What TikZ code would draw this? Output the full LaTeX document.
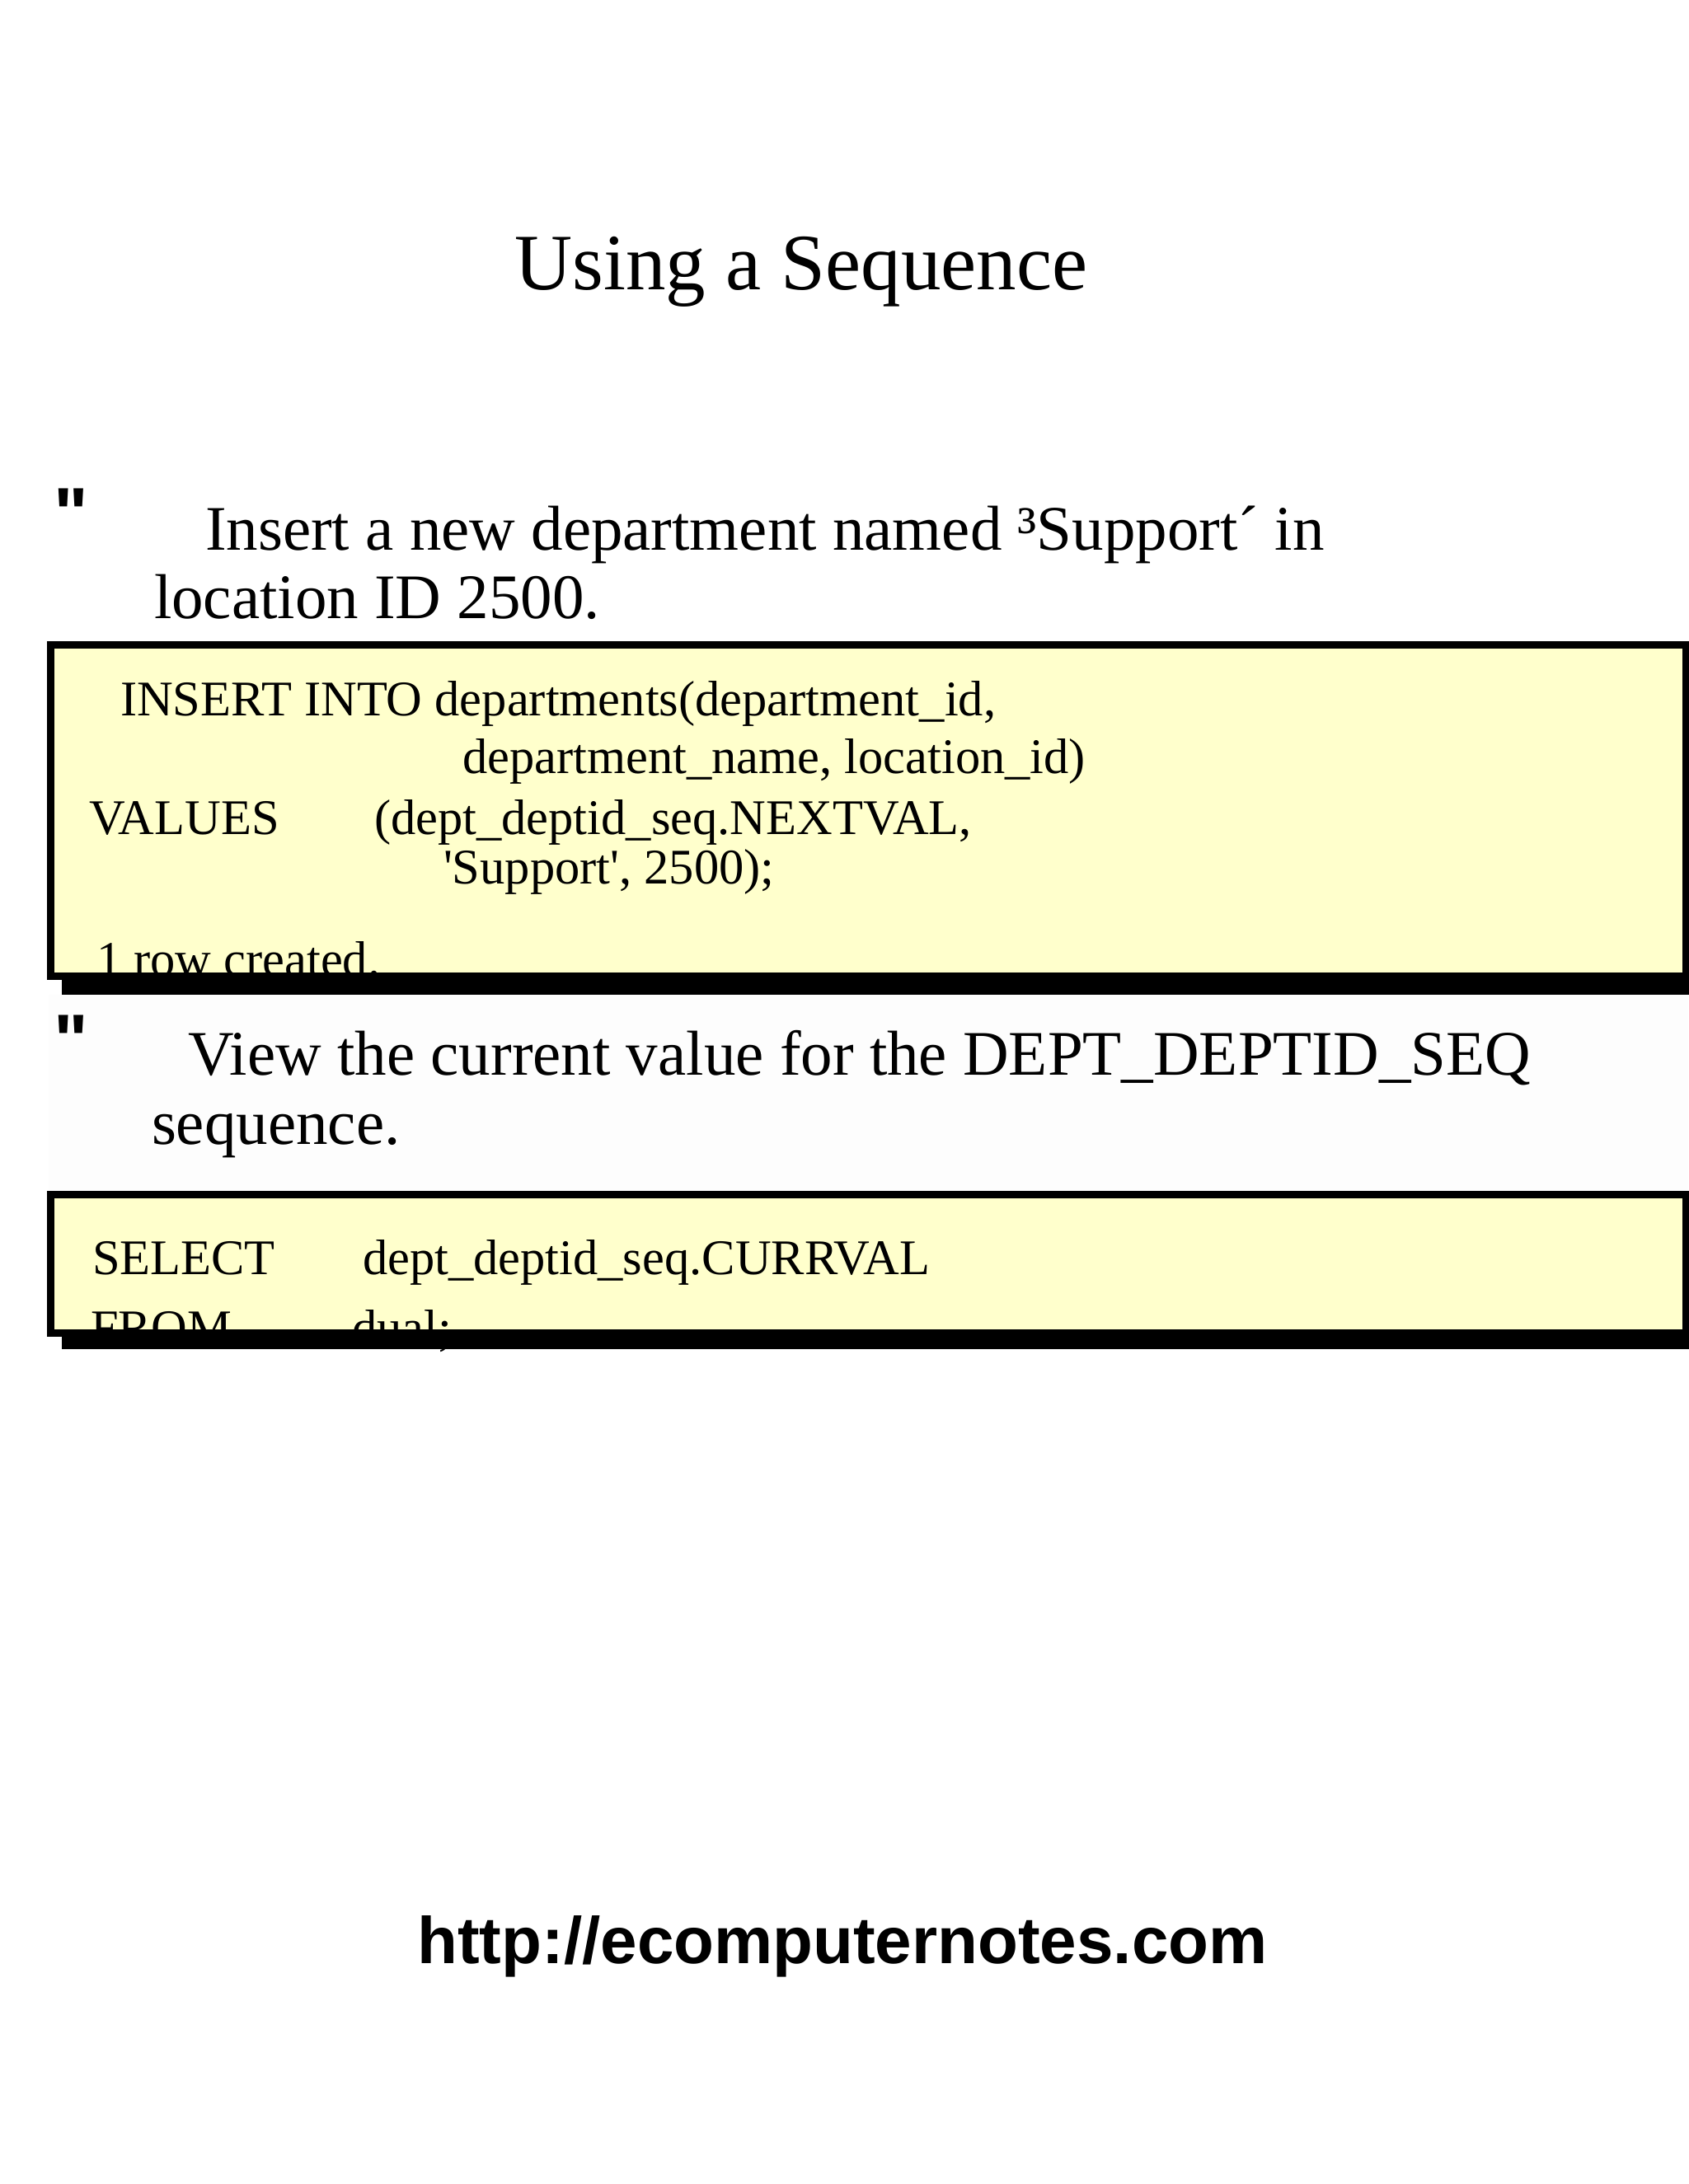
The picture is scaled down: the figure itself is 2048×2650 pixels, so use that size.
\documentclass[tikz,border=0pt]{standalone}
\usepackage{fontspec}
\setmainfont{Liberation Serif}
\newfontfamily\codefont{Liberation Serif}
\newfontfamily\footfont{Liberation Sans}
\definecolor{codeyellow}{HTML}{FFFFCC}
\definecolor{lightbg}{HTML}{FDFDFD}
\begin{document}
\begin{tikzpicture}[x=1pt,y=-1pt,
  txt/.style={inner sep=0pt,outer sep=0pt,anchor=base west},
  titletxt/.style={inner sep=0pt,anchor=base,font=\fontsize{97}{97}\selectfont},
  bodytxt/.style={txt,font=\fontsize{77}{77}\selectfont},
  codetxt/.style={txt,font=\codefont\fontsize{60.5}{60.5}\selectfont},
  bullettxt/.style={txt,font=\footfont\bfseries\fontsize{88}{88}\selectfont},
  foottxt/.style={inner sep=0pt,anchor=base,font=\footfont\bfseries\fontsize{80}{80}\selectfont},
  shadowbar/.style={fill=black,draw=none},
  codebox/.style={fill=codeyellow,draw=none},
  boxframe/.style={draw=black,line width=9pt}]
\useasboundingbox (0,0) rectangle (2048,2650);
\fill[white] (0,0) rectangle (2048,2650);
% light background between boxes
\fill[lightbg] (59,1207) rectangle (2048,1445);

% title
\node[titletxt] (title) at (972,351) {Using a Sequence};

% bullet 1
\node[bullettxt] (q1) at (65,653) {"};
\node[bodytxt] (b1a) at (249,667) {Insert a new department named ³Support´ in};
\node[bodytxt] (b1b) at (187,750) {location ID 2500.};

% code box 1
\fill[shadowbar] (75,796) rectangle (2070,1207);
\fill[codebox] (61.5,782.5) rectangle (2045.5,1184.5);
\node[codetxt] (c1a) at (146,868) {INSERT INTO departments(department\_id,};
\node[codetxt] (c1b) at (561,938) {department\_name, location\_id)};
\node[codetxt] (c1c) at (108,1012) {VALUES};
\node[codetxt] (c1d) at (454,1012) {(dept\_deptid\_seq.NEXTVAL,};
\node[codetxt] (c1e) at (538,1072) {'Support', 2500);};
\node[codetxt] (c1f) at (117,1184) {1 row created.};
\draw[boxframe] (61.5,782.5) rectangle (2045.5,1184.5);
\fill[shadowbar] (75,1189) rectangle (2070,1207);

% bullet 2
\node[bullettxt] (q2) at (65,1292) {"};
\node[bodytxt] (b2a) at (228,1304) {View the current value for the DEPT\_DEPTID\_SEQ};
\node[bodytxt] (b2b) at (184,1388) {sequence.};

% code box 2
\fill[shadowbar] (75,1461) rectangle (2070,1637);
\fill[codebox] (61.5,1449.5) rectangle (2045.5,1617.5);
\node[codetxt] (c2a) at (112,1546) {SELECT};
\node[codetxt] (c2b) at (440,1546) {dept\_deptid\_seq.CURRVAL};
\node[codetxt] (c2c) at (110,1631) {FROM};
\node[codetxt] (c2d) at (427,1631) {dual;};
\draw[boxframe] (61.5,1449.5) rectangle (2045.5,1617.5);
\fill[shadowbar] (75,1622) rectangle (2070,1637);

% footer
\node[foottxt] (foot) at (1022,2382) {http://ecomputernotes.com};
\end{tikzpicture}
\end{document}
